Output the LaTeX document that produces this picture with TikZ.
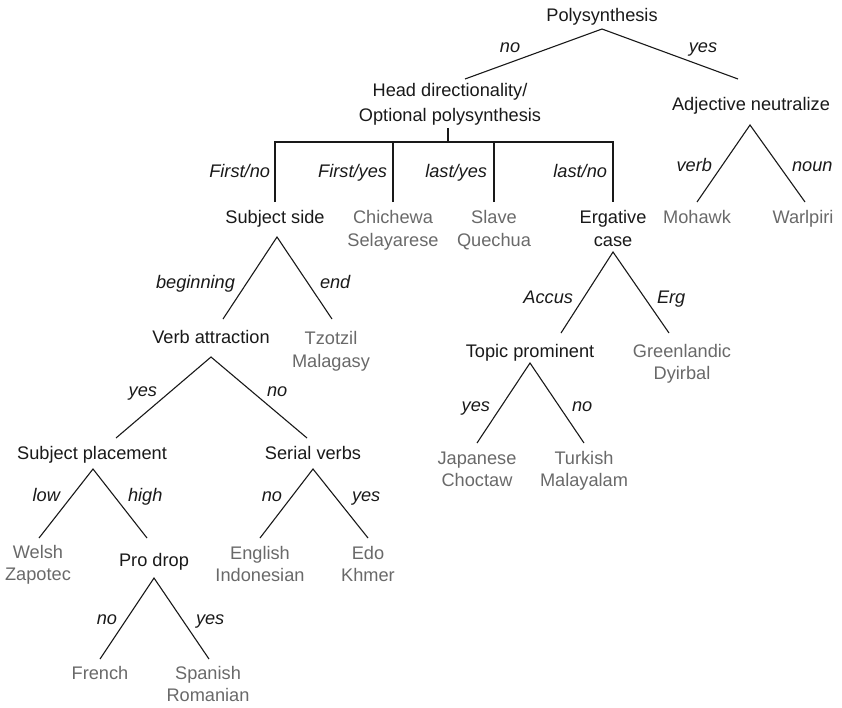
\documentclass[tikz,border=0pt]{standalone}
\usepackage{fontspec}
\setmainfont{Liberation Sans}
\definecolor{langgrey}{RGB}{105,105,105}
\definecolor{txtdark}{RGB}{25,25,25}
\begin{document}
\begin{tikzpicture}[x=1pt,y=-1pt,
  every node/.style={inner sep=0pt, outer sep=0pt},
  feat/.style={anchor=base, align=center, text=txtdark, font=\fontsize{18.2}{22.5}\selectfont},
  lang/.style={anchor=base, align=center, text=langgrey, font=\fontsize{18.2}{22.5}\selectfont},
  lab/.style={text=txtdark, font=\fontsize{18.2}{22.5}\selectfont\itshape, text height=13pt, text depth=4pt},
  edge/.style={draw=txtdark, line width=1.1pt}]
\useasboundingbox (0,0) rectangle (842,707);

% feature nodes (two-line nodes are placed by the baseline of their last line)
\node[feat] (poly) at (602,21.5) {Polysynthesis};
\node[feat, font=\fontsize{18.2}{24.5}\selectfont] (head) at (450,121) {Head directionality/\\Optional polysynthesis};
\node[feat] (adj) at (751,110.5) {Adjective neutralize};
\node[feat] (subj) at (275,223.5) {Subject side};
\node[feat] (erg) at (613,246) {Ergative\\case};
\node[feat] (verb) at (211,343.5) {Verb attraction};
\node[feat] (topic) at (530,357.5) {Topic prominent};
\node[feat] (subjpl) at (92,459.5) {Subject placement};
\node[feat] (serial) at (313,459.5) {Serial verbs};
\node[feat] (prodrop) at (154,566.5) {Pro drop};

% language leaves
\node[lang] (chich) at (393,246) {Chichewa\\Selayarese};
\node[lang] (slave) at (494,246) {Slave\\Quechua};
\node[lang] (mohawk) at (697,223.5) {Mohawk};
\node[lang] (warl) at (803,223.5) {Warlpiri};
\node[lang] (tzotzil) at (331,367) {Tzotzil\\Malagasy};
\node[lang] (green) at (682,379.5) {Greenlandic\\Dyirbal};
\node[lang] (japanese) at (477,486.5) {Japanese\\Choctaw};
\node[lang] (turkish) at (584,486.5) {Turkish\\Malayalam};
\node[lang] (welsh) at (38,580.5) {Welsh\\Zapotec};
\node[lang] (english) at (260,581.5) {English\\Indonesian};
\node[lang] (edo) at (368,581.5) {Edo\\Khmer};
\node[lang] (french) at (100,679.5) {French};
\node[lang] (spanish) at (208,701.5) {Spanish\\Romanian};

% connector ends
\coordinate (poly-a) at (602,29);
\coordinate (head-t) at (465,79);
\coordinate (adj-t) at (738,79);
\coordinate (head-a) at (448,128);
\coordinate (bar) at (448,142);
\coordinate (subj-t) at (275,202);
\coordinate (chich-t) at (393,202);
\coordinate (slave-t) at (494,202);
\coordinate (erg-t) at (613,202);
\coordinate (adj-a) at (750,125);
\coordinate (mohawk-t) at (697,202);
\coordinate (warl-t) at (805,202);
\coordinate (subj-a) at (277,237);
\coordinate (verb-t) at (223,319);
\coordinate (tzotzil-t) at (332,319);
\coordinate (verb-a) at (211,357);
\coordinate (subjpl-t) at (116,438);
\coordinate (serial-t) at (307,438);
\coordinate (subjpl-a) at (93,469);
\coordinate (welsh-t) at (39,538);
\coordinate (prodrop-t) at (147,538);
\coordinate (prodrop-a) at (154,578);
\coordinate (french-t) at (100,659);
\coordinate (spanish-t) at (209,659);
\coordinate (serial-a) at (313,469);
\coordinate (english-t) at (260,538);
\coordinate (edo-t) at (368,538);
\coordinate (erg-a) at (613,252);
\coordinate (topic-t) at (561,333);
\coordinate (green-t) at (669,333);
\coordinate (topic-a) at (530,363);
\coordinate (japanese-t) at (477,443);
\coordinate (turkish-t) at (584,443);

% connectors
\draw[edge] (head-t) -- (poly-a) -- (adj-t);
\draw[edge] (head-a) -- (bar);
\draw[edge] (subj-t) |- (bar) -| (erg-t);
\draw[edge] (chich-t) -- (chich-t |- bar);
\draw[edge] (slave-t) -- (slave-t |- bar);
\draw[edge] (mohawk-t) -- (adj-a) -- (warl-t);
\draw[edge] (verb-t) -- (subj-a) -- (tzotzil-t);
\draw[edge] (subjpl-t) -- (verb-a) -- (serial-t);
\draw[edge] (welsh-t) -- (subjpl-a) -- (prodrop-t);
\draw[edge] (french-t) -- (prodrop-a) -- (spanish-t);
\draw[edge] (english-t) -- (serial-a) -- (edo-t);
\draw[edge] (topic-t) -- (erg-a) -- (green-t);
\draw[edge] (japanese-t) -- (topic-a) -- (turkish-t);

% edge labels
\node[lab] (l-no1) at (510,48) {no};
\node[lab] (l-yes1) at (703,48) {yes};
\node[lab, anchor=east] (l-fn) at (270,173) {First/no};
\node[lab, anchor=east] (l-fy) at (387,173) {First/yes};
\node[lab, anchor=east] (l-ly) at (487,173) {last/yes};
\node[lab, anchor=east] (l-ln) at (607,173) {last/no};
\node[lab, anchor=east] (l-verb) at (712,167) {verb};
\node[lab, anchor=west] (l-noun) at (792,167) {noun};
\node[lab, anchor=east] (l-beg) at (235,284) {beginning};
\node[lab, anchor=west] (l-end) at (320,284) {end};
\node[lab, anchor=east] (l-yes2) at (157,392) {yes};
\node[lab, anchor=west] (l-no2) at (267,392) {no};
\node[lab, anchor=east] (l-low) at (60,497) {low};
\node[lab, anchor=west] (l-high) at (128,497) {high};
\node[lab, anchor=east] (l-no3) at (282,497) {no};
\node[lab, anchor=west] (l-yes3) at (352,497) {yes};
\node[lab, anchor=east] (l-no4) at (117,620) {no};
\node[lab, anchor=west] (l-yes4) at (196,620) {yes};
\node[lab, anchor=east] (l-acc) at (573,299) {Accus};
\node[lab, anchor=west] (l-erg) at (657,299) {Erg};
\node[lab, anchor=east] (l-yes5) at (490,407) {yes};
\node[lab, anchor=west] (l-no5) at (572,407) {no};
\end{tikzpicture}
\end{document}
